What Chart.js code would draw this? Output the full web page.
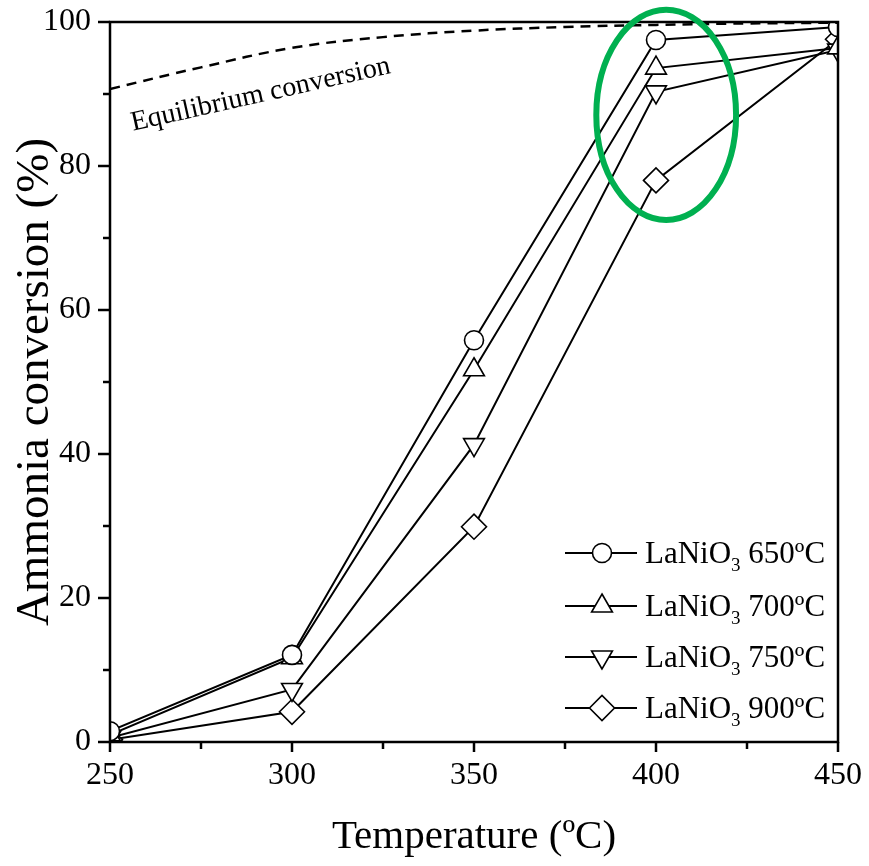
<!DOCTYPE html>
<html>
<head>
<meta charset="utf-8">
<script src="https://cdn.jsdelivr.net/npm/chart.js@4/dist/chart.umd.min.js"></script>
<style>
	html, body { margin: 0; padding: 0; background: #fff; }
	#wrap { width: 869px; height: 866px; }
</style>
</head>
<body>
<div id="wrap"><canvas id="graficoConversao"></canvas></div>
<script>
// temperatures (ºC) and NH3 conversion (%) for each calcination temperature
const temperaturas = [250, 300, 350, 400, 450];
const conv650 = [1.5, 12.1, 55.8, 97.5, 99.3];
const conv700 = [1.0, 11.7, 51.7, 93.6, 96.4];
const conv750 = [0.6, 7.3, 41.3, 90.3, 96.1];
const conv900 = [0.3, 4.2, 29.9, 78.0, 97.6];

// thermodynamic equilibrium curve
const tempEquilibrio = [250, 275, 300, 325, 350, 375, 400, 425, 450];
const convEquilibrio = [90.7, 93.7, 96.4, 97.9, 98.8, 99.3, 99.6, 99.8, 99.9];

const calcinacao = ['650ºC', '700ºC', '750ºC', '900ºC'];
const marcadores = ['circle', 'triangle', 'triangle', 'rectRot'];
const rotacoes = [0, 0, 180, 0];
const raios = [9.5, 12, 12, 12.5];

const fonte = '"Liberation Serif", "Times New Roman", serif';

function pares(xs, ys) {
	return xs.map((x, i) => ({ x: x, y: ys[i] }));
}

const series = [conv650, conv700, conv750, conv900].map((dados, i) => ({
	label: 'LaNiO3 ' + calcinacao[i],
	data: pares(temperaturas, dados),
	borderColor: '#000',
	borderWidth: 2,
	pointStyle: marcadores[i],
	rotation: rotacoes[i],
	pointRadius: raios[i],
	pointBackgroundColor: '#fff',
	pointBorderColor: '#000',
	pointBorderWidth: 1.6,
	tension: 0,
	clip: 0
}));

const equilibrio = {
	label: 'Equilibrium conversion',
	data: pares(tempEquilibrio, convEquilibrio),
	borderColor: '#000',
	borderWidth: 2.5,
	borderDash: [10, 7],
	pointRadius: 0,
	tension: 0.4,
	clip: 0
};

// frame, outward ticks, curve label, legend and the highlight ellipse
const extras = {
	id: 'extras',
	afterDraw(chart) {
		const ctx = chart.ctx;
		const a = chart.chartArea;
		const x = chart.scales.x;
		const y = chart.scales.y;
		ctx.save();

		ctx.strokeStyle = '#000';
		ctx.lineWidth = 2.5;
		ctx.strokeRect(a.left, a.top, a.right - a.left, a.bottom - a.top);

		x.ticks.forEach(t => {
			const px = x.getPixelForValue(t.value);
			const len = t.value % 50 === 0 ? 10 : 7;
			ctx.beginPath();
			ctx.moveTo(px, a.bottom);
			ctx.lineTo(px, a.bottom + len);
			ctx.stroke();
		});
		y.ticks.forEach(t => {
			const py = y.getPixelForValue(t.value);
			const len = t.value % 20 === 0 ? 12 : 7;
			ctx.beginPath();
			ctx.moveTo(a.left, py);
			ctx.lineTo(a.left - len, py);
			ctx.stroke();
		});

		// label along the equilibrium curve
		ctx.save();
		ctx.translate(x.getPixelForValue(256.3), y.getPixelForValue(84.9));
		ctx.rotate(-12.6 * Math.PI / 180);
		ctx.fillStyle = '#000';
		ctx.font = '28px ' + fonte;
		ctx.textBaseline = 'alphabetic';
		ctx.textAlign = 'left';
		ctx.fillText('Equilibrium conversion', 0, 0);
		ctx.restore();

		// legend
		const linhas = [553, 606, 657, 708];
		series.forEach((s, i) => {
			const ly = linhas[i];
			ctx.strokeStyle = '#000';
			ctx.lineWidth = 2;
			ctx.beginPath();
			ctx.moveTo(565, ly);
			ctx.lineTo(637, ly);
			ctx.stroke();
			ctx.fillStyle = '#fff';
			ctx.lineWidth = 1.6;
			Chart.helpers.drawPoint(ctx, {
				pointStyle: s.pointStyle,
				rotation: s.rotation,
				radius: s.pointRadius,
				borderWidth: 1.6
			}, 602, ly);

			ctx.fillStyle = '#000';
			ctx.textAlign = 'left';
			ctx.textBaseline = 'alphabetic';
			ctx.font = '31px ' + fonte;
			let tx = 645;
			ctx.fillText('LaNiO', tx, ly + 10);
			tx += ctx.measureText('LaNiO').width;
			ctx.font = '19px ' + fonte;
			ctx.fillText('3', tx, ly + 18);
			tx += ctx.measureText('3').width;
			ctx.font = '31px ' + fonte;
			ctx.fillText(' ' + calcinacao[i], tx, ly + 10);
		});

		// highlight around the 400 ºC points
		const cx = x.getPixelForValue(402.8);
		const cy = y.getPixelForValue(87.1);
		const rx = x.getPixelForValue(402.8 + 19.2) - cx;
		const ry = cy - y.getPixelForValue(87.1 + 14.6);
		ctx.strokeStyle = 'rgb(0,176,80)';
		ctx.lineWidth = 6;
		ctx.beginPath();
		ctx.ellipse(cx, cy, rx, ry, 0, 0, Math.PI * 2);
		ctx.stroke();

		ctx.restore();
	}
};

const ctx = document.getElementById('graficoConversao').getContext('2d');
const grafico = new Chart(ctx, {
	type: 'line',
	data: { datasets: [equilibrio].concat(series) },
	options: {
		responsive: true,
		maintainAspectRatio: false,
		animation: false,
		layout: { padding: { top: 22, right: 31, left: 0, bottom: 0 } },
		plugins: {
			legend: { display: false },
			tooltip: { enabled: false }
		},
		scales: {
			x: {
				type: 'linear',
				min: 250,
				max: 450,
				afterFit: s => {
					s.height = 124;
					s.paddingLeft = 0;
					s.paddingRight = 0;
				},
				grid: { display: false, drawTicks: false },
				border: { display: false },
				ticks: {
					stepSize: 25,
					padding: 14,
					color: '#000',
					font: { family: fonte, size: 32 },
					maxRotation: 0,
					autoSkip: false,
					callback: v => (v % 50 === 0 ? v : '')
				},
				title: {
					display: true,
					text: 'Temperature (ºC)',
					color: '#000',
					font: { family: fonte, size: 41 },
					padding: { top: 0, bottom: 4 }
				}
			},
			y: {
				min: 0,
				max: 100,
				afterFit: s => {
					s.width = 110;
					s.paddingTop = 0;
					s.paddingBottom = 0;
				},
				grid: { display: false, drawTicks: false },
				border: { display: false },
				ticks: {
					stepSize: 10,
					padding: 19,
					color: '#000',
					font: { family: fonte, size: 32 },
					autoSkip: false,
					callback: v => (v % 20 === 0 ? v : '')
				},
				title: {
					display: true,
					text: 'Ammonia conversion (%)',
					color: '#000',
					font: { family: fonte, size: 47 },
					padding: { top: 7, bottom: 0 }
				}
			}
		}
	},
	plugins: [extras]
});
</script>
</body>
</html>
